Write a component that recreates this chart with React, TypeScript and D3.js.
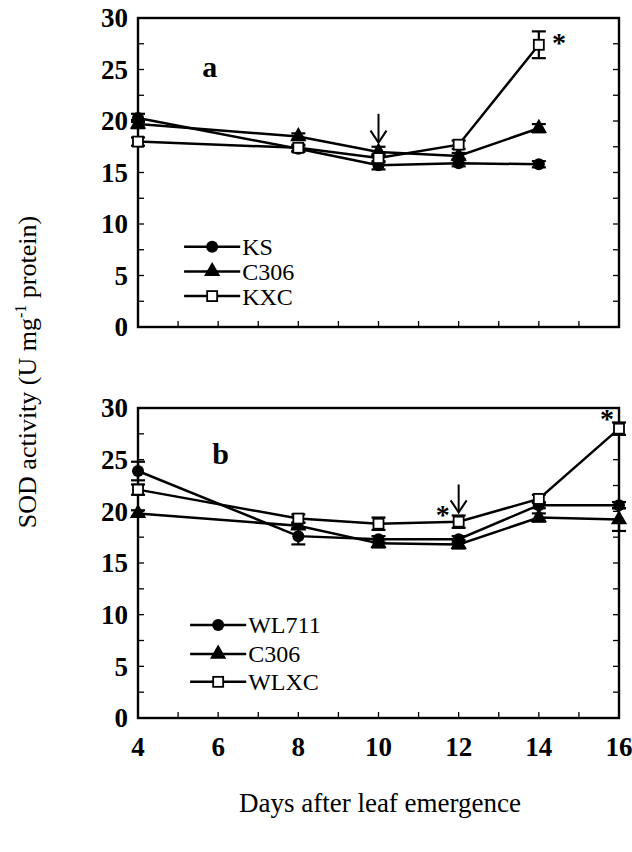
import React from "react";
import * as d3 from "d3";

const days = [4, 8, 10, 12, 14];
const daysB = [4, 8, 10, 12, 14, 16];
const xTicks = [4, 6, 8, 10, 12, 14, 16];
const yTicks = [0, 5, 10, 15, 20, 25, 30];

// Panel a
const ksA = [20.3, 17.3, 15.7, 15.9, 15.8];
const ksAErr = [0.4, 0.3, 0.4, 0.3, 0.3];
const c306A = [19.7, 18.5, 17.0, 16.6, 19.3];
const c306AErr = [0.4, 0.3, 0.5, 0.3, 0.4];
const kxcA = [18.0, 17.4, 16.4, 17.7, 27.4];
const kxcAErr = [0.4, 0.3, 0.4, 0.4, 1.3];

// Panel b
const wlB = [23.9, 17.6, 17.3, 17.3, 20.6, 20.6];
const wlBErr = [0.9, 0.8, 0.3, 0.3, 0.3, 0.3];
const c306B = [19.8, 18.6, 16.9, 16.8, 19.4, 19.2];
const c306BErr = [0.3, 0.3, 0.4, 0.4, 0.4, 1.1];
const wlxcB = [22.1, 19.3, 18.8, 19.0, 21.2, 28.0];
const wlxcBErr = [0.5, 0.4, 0.6, 0.6, 0.4, 0.6];

const legendA = ["KS", "C306", "KXC"];
const legendB = ["WL711", "C306", "WLXC"];

const FONT = "'Liberation Serif', 'DejaVu Serif', serif";
const W = 632;
const H = 852;
const X0 = 138;
const X1 = 619;

type Series = { vals: number[]; err: number[]; marker: "circle" | "triangle" | "square" };

function Marker({ type, x, y }: { type: string; x: number; y: number }) {
  if (type === "circle") return <circle cx={x} cy={y} r={6} fill="#000" />;
  if (type === "triangle") {
    const p = d3.symbol(d3.symbolTriangle, 115)();
    return <path d={p || ""} transform={`translate(${x},${y})`} fill="#000" />;
  }
  return <rect x={x - 5} y={y - 5} width={10} height={10} fill="#fff" stroke="#000" strokeWidth={1.8} />;
}

function Panel({
  top,
  bottom,
  xs,
  series,
  legend,
  legendPos,
  letter,
  letterPos,
  arrowDay,
  arrowFrom,
  arrowTo,
  stars,
  showXLabels,
}: {
  top: number;
  bottom: number;
  xs: number[];
  series: Series[];
  legend: string[];
  legendPos: { d0: number; d1: number; vals: number[] };
  letter: string;
  letterPos: [number, number];
  arrowDay: number;
  arrowFrom: number;
  arrowTo: number;
  stars: [number, number][];
  showXLabels: boolean;
}) {
  const x = d3.scaleLinear().domain([4, 16]).range([X0, X1]);
  const y = d3.scaleLinear().domain([0, 30]).range([bottom, top]);
  const line = d3
    .line<number>()
    .x((_, i) => x(xs[i]))
    .y((v) => y(v));
  const minorX = d3.range(4, 17, 1);
  const minorY = d3.range(0, 30.01, 2.5);
  const ax = x(arrowDay);
  const ay1 = y(arrowFrom);
  const ay2 = y(arrowTo);
  return (
    <g>
      {minorX.map((d) => (
        <line key={"tx" + d} x1={x(d)} x2={x(d)} y1={bottom} y2={bottom - 6} stroke="#000" strokeWidth={1.3} />
      ))}
      {minorY.map((d) => (
        <g key={"ty" + d}>
          <line x1={X0} x2={X0 + 6} y1={y(d)} y2={y(d)} stroke="#000" strokeWidth={1.3} />
          <line x1={X1} x2={X1 - 6} y1={y(d)} y2={y(d)} stroke="#000" strokeWidth={1.3} />
        </g>
      ))}
      <rect x={X0} y={top} width={X1 - X0} height={bottom - top} fill="none" stroke="#000" strokeWidth={2.4} />
      {yTicks.map((t) => (
        <text
          key={"yl" + t}
          x={X0 - 10}
          y={y(t)}
          dy="0.35em"
          textAnchor="end"
          fontFamily={FONT}
          fontWeight="bold"
          fontSize={27}
        >
          {t}
        </text>
      ))}
      {showXLabels &&
        xTicks.map((t) => (
          <text
            key={"xl" + t}
            x={x(t)}
            y={bottom + 38}
            textAnchor="middle"
            fontFamily={FONT}
            fontWeight="bold"
            fontSize={27}
          >
            {t}
          </text>
        ))}
      {series.map((s, i) => (
        <path key={"l" + i} d={line(s.vals) || ""} fill="none" stroke="#000" strokeWidth={2.5} />
      ))}
      {series.map((s, i) =>
        s.vals.map((v, j) => {
          const cx = x(xs[j]);
          const e = s.err[j];
          return (
            <g key={"e" + i + "-" + j} stroke="#000" strokeWidth={2.2}>
              <line x1={cx} x2={cx} y1={y(v - e)} y2={y(v + e)} />
              <line x1={cx - 7} x2={cx + 7} y1={y(v - e)} y2={y(v - e)} />
              <line x1={cx - 7} x2={cx + 7} y1={y(v + e)} y2={y(v + e)} />
            </g>
          );
        })
      )}
      {series.map((s, i) =>
        s.vals.map((v, j) => <Marker key={"m" + i + "-" + j} type={s.marker} x={x(xs[j])} y={y(v)} />)
      )}
      <g stroke="#000" strokeWidth={2} fill="none">
        <line x1={ax} x2={ax} y1={ay1} y2={ay2} />
        <polyline points={`${ax - 8},${ay2 - 12} ${ax},${ay2} ${ax + 8},${ay2 - 12}`} />
      </g>
      {stars.map(([d, v], i) => (
        <text
          key={"s" + i}
          x={x(d)}
          y={y(v)}
          dy="0.7em"
          textAnchor="middle"
          fontFamily={FONT}
          fontWeight="bold"
          fontSize={28}
        >
          *
        </text>
      ))}
      <text x={x(letterPos[0])} y={y(letterPos[1])} dy="0.35em" fontFamily={FONT} fontWeight="bold" fontSize={30}>
        {letter}
      </text>
      {legend.map((name, i) => {
        const ly = y(legendPos.vals[i]);
        const lx0 = x(legendPos.d0);
        const lx1 = x(legendPos.d1);
        return (
          <g key={"lg" + i}>
            <line x1={lx0} x2={lx1} y1={ly} y2={ly} stroke="#000" strokeWidth={2.5} />
            <Marker type={series[i].marker} x={(lx0 + lx1) / 2} y={ly} />
            <text x={lx1 + 2} y={ly} dy="0.35em" fontFamily={FONT} fontSize={24}>
              {name}
            </text>
          </g>
        );
      })}
    </g>
  );
}

export default function App() {
  return (
    <svg
      width={W}
      height={H}
      viewBox={`0 0 ${W} ${H}`}
      style={{ position: "absolute", left: 0, top: 0, background: "#fff" }}
    >
      <rect width={W} height={H} fill="#fff" />
      <Panel
        top={18}
        bottom={327}
        xs={days}
        series={[
          { vals: ksA, err: ksAErr, marker: "circle" },
          { vals: c306A, err: c306AErr, marker: "triangle" },
          { vals: kxcA, err: kxcAErr, marker: "square" },
        ]}
        legend={legendA}
        legendPos={{ d0: 5.15, d1: 6.55, vals: [7.8, 5.4, 3.0] }}
        letter="a"
        letterPos={[5.6, 25.3]}
        arrowDay={10}
        arrowFrom={20.7}
        arrowTo={17.9}
        stars={[[14.5, 28.6]]}
        showXLabels={false}
      />
      <Panel
        top={408}
        bottom={718}
        xs={daysB}
        series={[
          { vals: wlB, err: wlBErr, marker: "circle" },
          { vals: c306B, err: c306BErr, marker: "triangle" },
          { vals: wlxcB, err: wlxcBErr, marker: "square" },
        ]}
        legend={legendB}
        legendPos={{ d0: 5.3, d1: 6.7, vals: [9.0, 6.2, 3.5] }}
        letter="b"
        letterPos={[5.85, 25.6]}
        arrowDay={12}
        arrowFrom={22.6}
        arrowTo={19.9}
        stars={[
          [15.7, 30.0],
          [11.6, 20.7],
        ]}
        showXLabels={true}
      />
      <text x={380} y={812} textAnchor="middle" fontFamily={FONT} fontSize={27}>
        Days after leaf emergence
      </text>
      <text transform="translate(36,372) rotate(-90)" textAnchor="middle" fontFamily={FONT} fontSize={26}>
        SOD activity (U mg
        <tspan dy={-10} fontSize={16}>
          -1
        </tspan>
        <tspan dy={10}> protein)</tspan>
      </text>
    </svg>
  );
}
